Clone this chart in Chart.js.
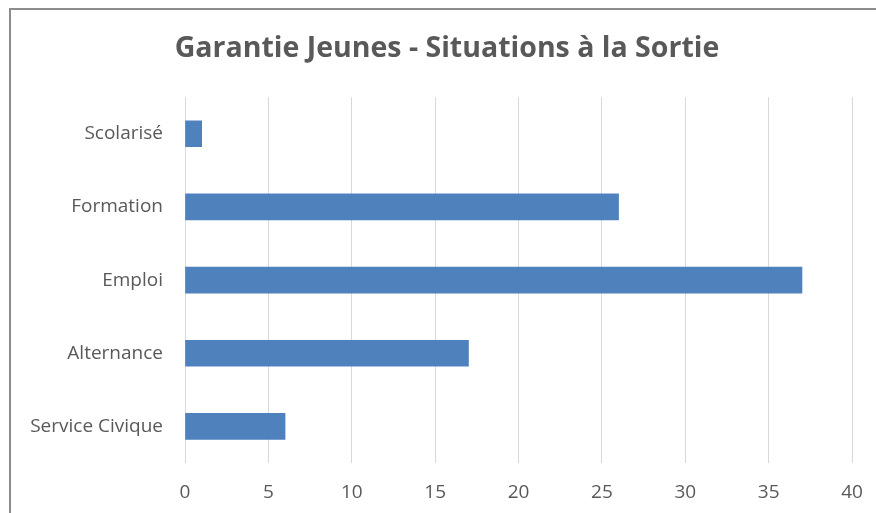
<!DOCTYPE html>
<html>
<head>
<meta charset="utf-8">
<script src="https://cdn.jsdelivr.net/npm/chart.js@4.4.1/dist/chart.umd.min.js"></script>
<style>
    html, body { margin: 0; padding: 0; background: #fff; overflow: hidden; }
    #wrap { position: relative; width: 876px; height: 513px; }
    #frame {
        position: absolute; left: 9px; top: 8px; width: 900px; height: 520px;
        border-left: 2px solid #8c8c8c; border-top: 2px solid #8c8c8c;
    }
    #chart { position: absolute; left: 0; top: 0; }
</style>
</head>
<body>
<div id="wrap">
    <div id="frame"></div>
    <canvas id="chart" width="876" height="513"></canvas>
</div>
<script>
// Chart data
const categories = ['Scolarisé', 'Formation', 'Emploi', 'Alternance', 'Service Civique'];
const values = [1, 26, 37, 17, 6];
const xTicks = [0, 5, 10, 15, 20, 25, 30, 35, 40];

const textColor = '#595959';
const fontFamily = '"Open Sans", sans-serif';

const ctx = document.getElementById('chart');

new Chart(ctx, {
    type: 'bar',
    data: {
        labels: categories,
        datasets: [{
            label: 'Situations',
            data: values,
            backgroundColor: '#4f81bd',
            borderWidth: 0,
            barThickness: 26
        }]
    },
    options: {
        indexAxis: 'y',
        responsive: false,
        animation: false,
        layout: {
            // left padding shifts the title centre to match the original
            padding: { left: 18, right: 0, top: 0, bottom: 0 }
        },
        plugins: {
            legend: { display: false },
            tooltip: { enabled: false },
            title: {
                display: true,
                text: 'Garantie Jeunes - Situations à la Sortie',
                color: textColor,
                font: { family: fontFamily, size: 28.5, weight: 'bold' },
                padding: { top: 32, bottom: 31 }
            }
        },
        scales: {
            x: {
                min: 0,
                max: 40,
                afterBuildTicks: function (scale) {
                    scale.ticks = xTicks.map(v => ({ value: v }));
                },
                afterFit: function (scale) {
                    scale.height = 50;
                    scale.paddingLeft = 0;
                    scale.paddingRight = 24;
                },
                grid: {
                    color: '#d9d9d9',
                    lineWidth: 1,
                    drawTicks: false
                },
                border: { display: false },
                ticks: {
                    color: textColor,
                    padding: 18,
                    font: { family: fontFamily, size: 19 }
                }
            },
            y: {
                afterFit: function (scale) {
                    scale.width = 167;
                },
                grid: { display: false, drawTicks: false },
                border: { display: false },
                ticks: {
                    color: textColor,
                    padding: 22,
                    font: { family: fontFamily, size: 19 }
                }
            }
        }
    }
});
</script>
</body>
</html>
